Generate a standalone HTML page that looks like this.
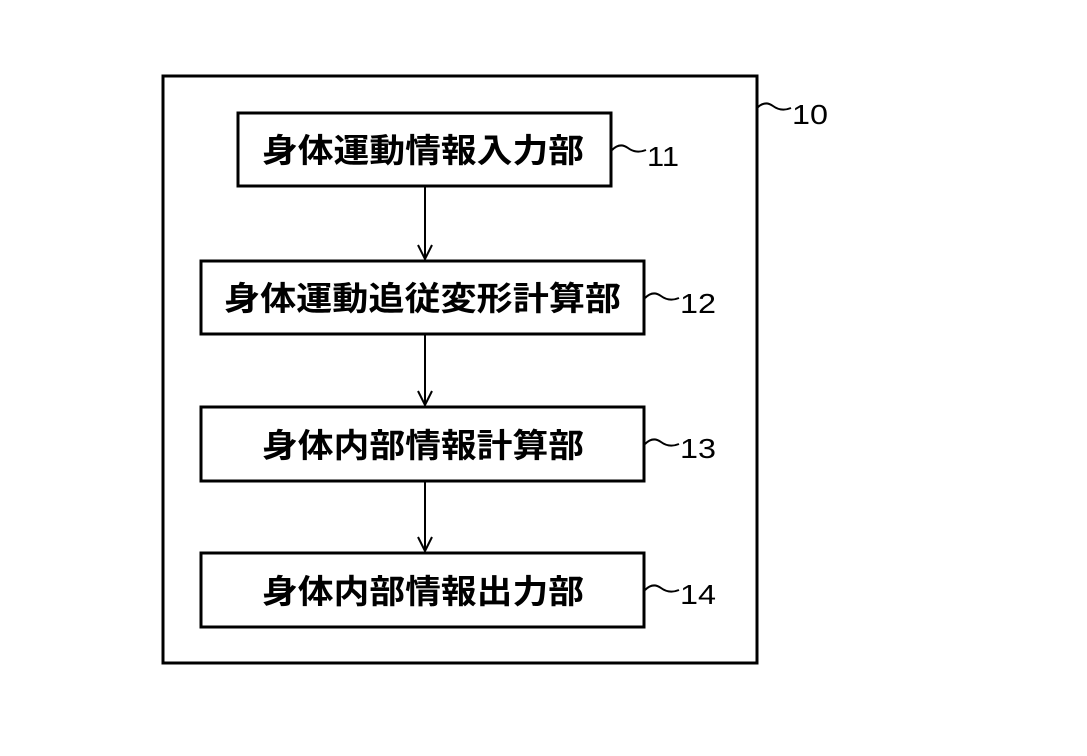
<!DOCTYPE html>
<html><head><meta charset="utf-8"><style>
html,body{margin:0;padding:0;background:#fff;}
svg{display:block}
text{font-family:"Liberation Sans","Noto Sans CJK JP",sans-serif;fill:#000}
</style></head><body>
<svg width="1087" height="756" viewBox="0 0 1087 756" xmlns="http://www.w3.org/2000/svg">
<g fill="none" stroke="#000" stroke-width="3">
<rect x="163" y="76" width="594" height="587"/>
<rect x="238" y="113" width="373" height="73"/>
<rect x="201" y="261" width="443" height="73"/>
<rect x="201" y="407" width="443" height="74"/>
<rect x="201" y="553" width="443" height="74"/>
</g>
<g fill="none" stroke="#000" stroke-width="2">
<line x1="425" y1="186" x2="425" y2="259"/>
<polyline points="418,245 425,259 432,245"/>
<line x1="425" y1="334" x2="425" y2="405"/>
<polyline points="418,391 425,405 432,391"/>
<line x1="425" y1="481" x2="425" y2="551"/>
<polyline points="418,537 425,551 432,537"/>
<path d="M757 108 q8 -8 16 -2 t18 2"/>
<path d="M612 150 q8 -8 16 -2 t18 2"/>
<path d="M645 298 q8 -8 16 -2 t18 2"/>
<path d="M645 444 q8 -8 16 -2 t18 2"/>
<path d="M645 590 q8 -8 16 -2 t18 2"/>
</g>
<g font-size="33" font-weight="bold">
<text x="262" y="162" textLength="322" lengthAdjust="spacingAndGlyphs">身体運動情報入力部</text>
<text x="224" y="310" textLength="397" lengthAdjust="spacingAndGlyphs">身体運動追従変形計算部</text>
<text x="262" y="457" textLength="322" lengthAdjust="spacingAndGlyphs">身体内部情報計算部</text>
<text x="262" y="603" textLength="322" lengthAdjust="spacingAndGlyphs">身体内部情報出力部</text>
</g>
<g font-size="28">
<text x="792" y="124" textLength="36" lengthAdjust="spacingAndGlyphs">10</text>
<text x="647" y="166" textLength="32" lengthAdjust="spacingAndGlyphs">11</text>
<text x="680" y="313" textLength="36" lengthAdjust="spacingAndGlyphs">12</text>
<text x="680" y="458" textLength="36" lengthAdjust="spacingAndGlyphs">13</text>
<text x="680" y="604" textLength="36" lengthAdjust="spacingAndGlyphs">14</text>
</g>
</svg>
</body></html>
